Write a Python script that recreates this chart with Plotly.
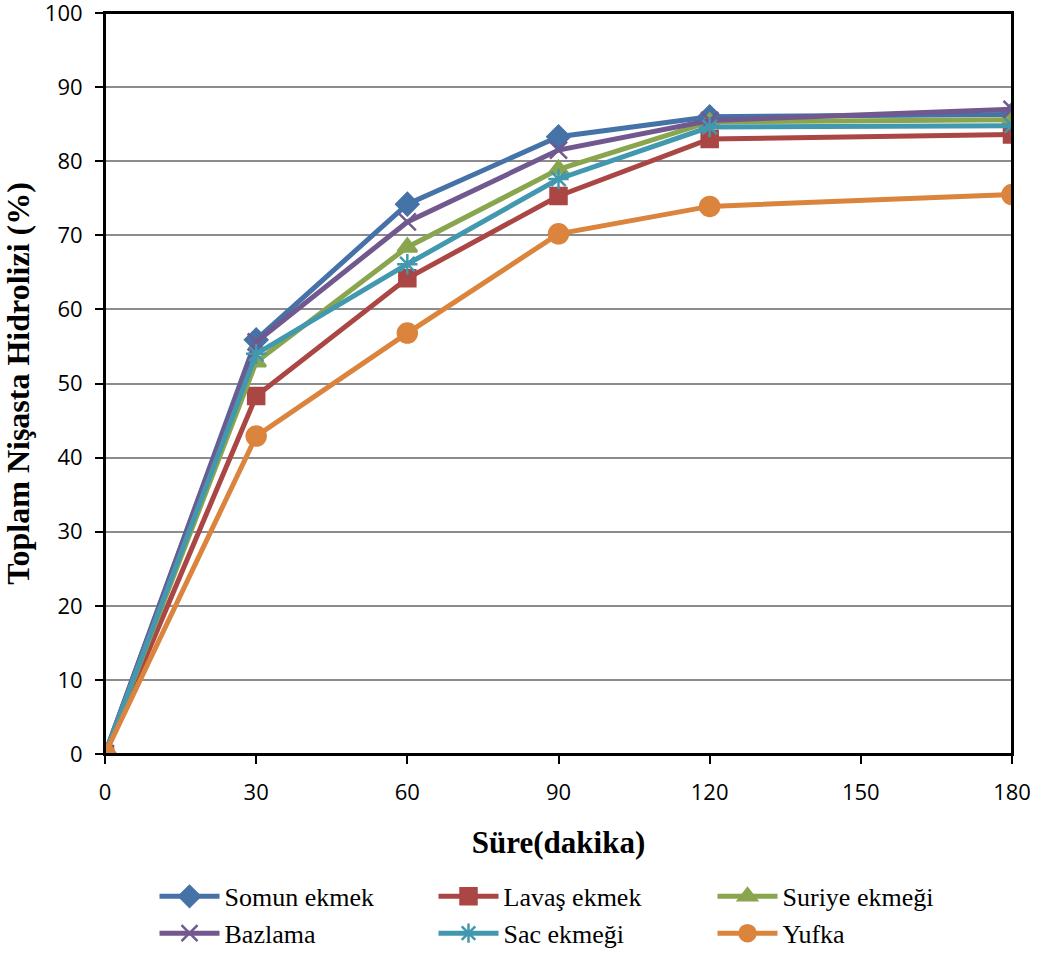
import plotly.graph_objects as go

minutes = [0, 30, 60, 90, 120, 180]
series_names = ["Somun ekmek", "Lavaş ekmek", "Suriye ekmeği", "Bazlama", "Sac ekmeği", "Yufka"]
somun = [0, 55.9, 74.2, 83.3, 86.0, 86.3]
lavas = [0, 48.3, 64.2, 75.3, 83.0, 83.6]
suriye = [0, 52.9, 68.4, 78.9, 85.3, 85.6]
bazlama = [0, 55.6, 71.8, 81.5, 85.5, 87.0]
sac = [0, 54.0, 66.1, 77.6, 84.6, 84.8]
yufka = [0, 42.9, 56.8, 70.2, 73.9, 75.5]
x_ticks = [0, 30, 60, 90, 120, 150, 180]
y_ticks = [0, 10, 20, 30, 40, 50, 60, 70, 80, 90, 100]

values = [somun, lavas, suriye, bazlama, sac, yufka]
colors = ["#4572A7", "#AA4643", "#89A54E", "#71588F", "#4198AF", "#DB843D"]
symbols = ["diamond", "square", "triangle-up", "x-thin-open", "asterisk-open", "circle"]
sizes = [17, 16, 17, 17, 17, 19]

fig = go.Figure()
for name, vals, c, s, sz in zip(series_names, values, colors, symbols, sizes):
    fig.add_trace(go.Scatter(
        x=minutes, y=vals, name=name, mode="lines+markers",
        line=dict(color=c, width=5),
        marker=dict(symbol=s, size=sz, color=c, line=dict(color=c, width=2.5)),
    ))

fig.add_shape(type="rect", xref="paper", yref="paper", x0=0, x1=1, y0=0, y1=1,
              line=dict(color="black", width=2), layer="above")

fig.update_layout(
    width=1044, height=953,
    margin=dict(l=105, r=32, t=13, b=199, autoexpand=False),
    plot_bgcolor="white", paper_bgcolor="white",
    showlegend=True,
    legend=dict(
        orientation="h", xref="container", yref="container",
        x=0.148, y=0.084, xanchor="left", yanchor="top",
        entrywidth=204, entrywidthmode="pixels",
        font=dict(family="Liberation Serif", size=26, color="black"),
        itemwidth=60, tracegroupgap=0, bgcolor="rgba(0,0,0,0)",
    ),
    font=dict(family="Open Sans", color="black"),
)
fig.update_xaxes(
    range=[0, 180], tickvals=x_ticks, ticks="outside", ticklen=8, tickwidth=2,
    tickcolor="black", showline=True, linecolor="black", linewidth=2, mirror=True,
    showgrid=False, zeroline=False,
    tickfont=dict(family="Open Sans", size=22, color="black"),
    ticklabelstandoff=10,
    title=dict(text="<b>Süre(dakika)</b>", standoff=26,
               font=dict(family="Liberation Serif", size=31, color="black")),
)
fig.update_yaxes(
    range=[0, 100], tickvals=y_ticks, ticks="outside", ticklen=8, tickwidth=2,
    tickcolor="black", showline=True, linecolor="black", linewidth=2, mirror=True,
    showgrid=True, gridcolor="#8C8C8C", gridwidth=1.5, zeroline=False,
    tickfont=dict(family="Open Sans", size=22, color="black"),
    ticklabelstandoff=8, ticklabeloverflow="allow",
    title=dict(text="<b>Toplam Nişasta Hidrolizi (%)</b>", standoff=8,
               font=dict(family="Liberation Serif", size=32, color="black")),
)

fig.write_html("out.html")
